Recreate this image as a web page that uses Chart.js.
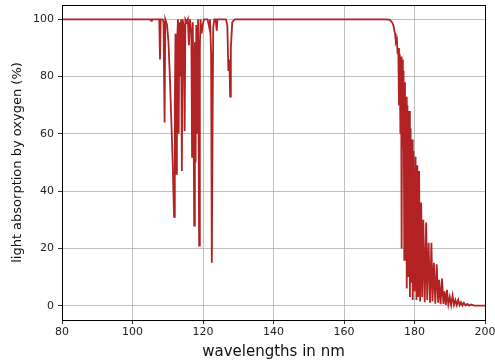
<!DOCTYPE html>
<html>
<head>
<meta charset="utf-8">
<script src="https://cdn.jsdelivr.net/npm/chart.js@4"></script>
<style>
  html, body { margin: 0; padding: 0; background: #fff; }
  #wrap { width: 495px; height: 363px; }
</style>
</head>
<body>
<div id="wrap"><canvas id="chart" width="495" height="363"></canvas></div>
<script>
// wavelength in nm
const wavelengths = [
    80, 105, 105.3, 105.5, 107.6, 107.8, 108.0, 108.6, 108.8, 109.1, 109.3, 109.8,
    110.2, 110.6, 111.0, 111.4, 111.8, 112.0, 112.2, 112.4, 112.6, 112.9, 113.1, 113.3,
    113.5, 113.8, 114.0, 114.2, 114.5, 114.8, 115.0, 115.4, 115.7, 116.0, 116.3, 116.7,
    116.9, 117.1, 117.3, 117.5, 117.7, 117.9, 118.1, 118.4, 118.6, 118.9, 119.1, 119.3,
    119.6, 119.9, 120.3, 121.3, 121.8, 122.0, 122.3, 122.5, 122.7, 122.9, 123.2, 123.6,
    123.9, 124.1, 126.5, 126.9, 127.2, 127.5, 127.7, 127.9, 128.3, 129,
    172, 173, 173.6, 174.0, 174.3, 174.5, 174.7, 175.0, 175.2, 175.4, 175.6, 175.8,
    176.0, 176.2, 176.35, 176.5, 176.7, 176.9, 177.1, 177.3, 177.45, 177.6, 177.8, 178.0,
    178.25, 178.5, 178.7, 178.9, 179.1, 179.3, 179.5, 179.7, 180.0, 180.3, 180.55, 180.8,
    181.05, 181.3, 181.6, 181.9, 182.2, 182.5, 182.9, 183.3, 183.6, 184.0, 184.4, 184.8,
    185.1, 185.5, 185.9, 186.3, 186.7, 187.0, 187.4, 187.8, 188.2, 188.5, 188.9, 189.2,
    189.6, 190.0, 190.4, 190.8, 191.2, 191.6, 192.0, 192.4, 192.8, 193.2, 193.6, 194.0,
    194.5, 195.0, 195.5, 196.0, 197.0, 200
];

// absorption in %
const absorption = [
    100, 100, 99.5, 100, 100, 86, 100, 100, 99, 64, 100, 98,
    92, 80, 65, 50, 31, 70, 95, 46, 90, 100, 60, 99,
    80, 100, 47, 100, 98, 61, 100, 99, 100, 91, 100, 95,
    52, 99, 74, 28, 92, 50, 98, 60, 100, 21, 90, 100,
    95, 98, 100, 100, 97, 100, 88, 15, 60, 97, 100, 100,
    96, 100, 100, 98, 82, 86, 73, 90, 99, 100,
    100, 99.8, 99, 98, 96, 95, 92, 93, 88, 90, 70, 88,
    60, 87, 20, 86, 55, 82, 16, 78, 30, 73, 6, 70,
    10, 68, 3, 62, 8, 58, 2, 54, 5, 52, 2, 49,
    3, 47, 1.5, 36, 3, 30, 1.2, 29, 2, 22, 1, 22,
    1.5, 15, 0.7, 14.5, 1, 9, 0.5, 9.5, 0.6, 5, 0.3, 5.5,
    0.4, 3, 0.2, 3.5, 0.3, 2, 0.2, 2, 0.15, 1.2, 0.1, 1,
    0.1, 0.6, 0.05, 0.4, 0.02, 0
];

const xTicks = [80, 100, 120, 140, 160, 180, 200];
const yTicks = [0, 20, 40, 60, 80, 100];

const points = wavelengths.map((w, i) => ({ x: w, y: absorption[i] }));

// rahmen um die plotfläche
const frame = {
    id: 'frame',
    afterDraw(chart) {
        const a = chart.chartArea;
        const ctx = chart.ctx;
        ctx.save();
        ctx.strokeStyle = '#000';
        ctx.lineWidth = 1;
        ctx.strokeRect(Math.round(a.left) + 0.5, Math.round(a.top) + 0.5,
            Math.round(a.right - a.left), Math.round(a.bottom - a.top));
        ctx.restore();
    }
};

Chart.defaults.font.family = '"DejaVu Sans", sans-serif';
Chart.defaults.color = '#222';

new Chart(document.getElementById('chart'), {
    type: 'line',
    data: {
        datasets: [{
            data: points,
            borderColor: '#b22222',
            borderWidth: 1.8,
            pointRadius: 0,
            tension: 0,
            fill: false
        }]
    },
    options: {
        responsive: false,
        animation: false,
        layout: { padding: { top: 5, right: 0, left: 0, bottom: 0 } },
        plugins: {
            legend: { display: false },
            tooltip: { enabled: false }
        },
        scales: {
            x: {
                type: 'linear',
                min: 80,
                max: 200,
                afterBuildTicks: s => { s.ticks = xTicks.map(v => ({ value: v })); },
                afterFit: s => {
                    s.height = 43;
                    s.paddingLeft = 0;
                    s.paddingRight = 10;
                },
                grid: { color: '#b0b0b0', lineWidth: 0.8, tickColor: '#000', tickLength: 4 },
                border: { display: false },
                ticks: { font: { size: 11 }, padding: 2, maxRotation: 0 },
                title: {
                    display: true,
                    text: 'wavelengths in nm',
                    font: { size: 15 },
                    color: '#111',
                    padding: { top: 0, bottom: 2 }
                }
            },
            y: {
                type: 'linear',
                min: -5,
                max: 105,
                afterBuildTicks: s => { s.ticks = yTicks.map(v => ({ value: v })); },
                afterFit: s => {
                    s.width = 62;
                    s.paddingTop = 0;
                    s.paddingBottom = 0;
                },
                grid: { color: '#b0b0b0', lineWidth: 0.8, tickColor: '#000', tickLength: 4 },
                border: { display: false },
                ticks: { font: { size: 11 }, padding: 4 },
                title: {
                    display: true,
                    text: 'light absorption by oxygen (%)',
                    font: { size: 13 },
                    color: '#111',
                    padding: { top: 10, bottom: 0 }
                }
            }
        }
    },
    plugins: [frame]
});
</script>
</body>
</html>
